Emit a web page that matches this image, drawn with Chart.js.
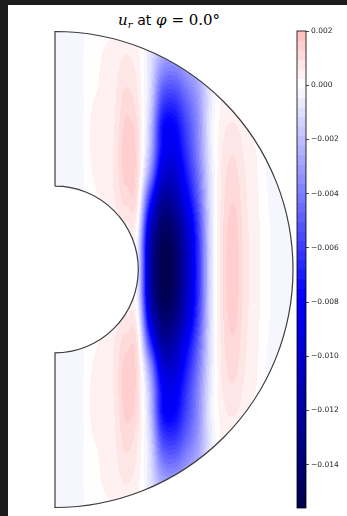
<!DOCTYPE html>
<html>
<head>
<meta charset="utf-8">
<script src="https://cdn.jsdelivr.net/npm/chart.js@4.4.1/dist/chart.umd.min.js"></script>
<style>
  body { margin: 0; background: #1c1c1c; width: 347px; height: 516px; overflow: hidden; }
  #panel { position: absolute; left: 8px; top: 5px; width: 339px; height: 511px; background: #fff; }
  #field { position: absolute; left: 8px; top: 5px; }
  #cbar { position: absolute; left: 296px; top: 20px; }
  #title { position: absolute; left: 118px; top: 11px; font-family: 'DejaVu Serif', serif; font-size: 15px; line-height: 18px; color: #000; white-space: nowrap; }
  #title .m { font-style: italic; }
  #title sub { font-style: italic; font-size: 10px; vertical-align: -3px; line-height: 0; }
  #title .t { font-family: 'DejaVu Sans', sans-serif; font-size: 14px; }
</style>
</head>
<body>
<div id="panel"></div>
<div id="title"><span class="m">u</span><sub>r</sub> <span class="t">at</span> <span class="m">φ</span> = 0.0°</div>
<canvas id="field" width="288" height="511"></canvas>
<canvas id="cbar" width="51" height="496"></canvas>
<script>
// grille du champ u_r (en 1e-3): colonnes en s, lignes en z (hémisphère nord)
const S_GRID = [0, 0.05, 0.1, 0.15, 0.2, 0.25, 0.3, 0.35, 0.4, 0.45, 0.5, 0.55, 0.6, 0.65, 0.7, 0.75, 0.8, 0.85, 0.9, 0.95, 1.0];
const Z_ROWS = [0, 0.1, 0.2, 0.3, 0.4, 0.5, 0.6, 0.7, 0.8, 0.9, 1.0];

const U_Z00 = [-0.3, -0.3, -0.3, -0.2, 0.1, 0.3, 0.3, -1.0, -11.5, -15.5, -14.8, -11.0, -6.6, -1.4, 0.8, 1.6, 0.75, 0.35, -0.1, -0.3, -0.3];
const U_Z01 = [-0.3, -0.3, -0.3, -0.2, 0.1, 0.3, 0.4, -1.0, -11.2, -15.2, -14.5, -10.8, -6.5, -1.4, 0.8, 1.55, 0.75, 0.35, -0.1, -0.3, -0.3];
const U_Z02 = [-0.3, -0.3, -0.3, -0.1, 0.2, 0.4, 0.6, -0.3, -9.5, -14.0, -13.4, -10.0, -6.0, -1.3, 0.75, 1.45, 0.7, 0.32, -0.1, -0.3, -0.3];
const U_Z03 = [-0.3, -0.3, -0.3, 0.1, 0.3, 0.6, 1.1, 0.5, -6.5, -12.0, -11.5, -8.5, -5.1, -1.1, 0.7, 1.25, 0.65, 0.3, -0.15, -0.3, -0.3];
const U_Z04 = [-0.3, -0.3, -0.3, 0.2, 0.35, 0.65, 1.45, 0.85, -3.5, -9.5, -10.0, -7.3, -4.4, -1.0, 0.65, 1.08, 0.6, 0.25, -0.2, -0.3, -0.3];
const U_Z05 = [-0.3, -0.3, -0.3, 0.25, 0.35, 0.65, 1.55, 0.95, -2.2, -7.8, -8.6, -6.4, -3.8, -0.8, 0.55, 0.9, 0.5, 0.2, -0.25, -0.3, -0.3];
const U_Z06 = [-0.3, -0.3, -0.3, 0.25, 0.35, 0.6, 1.4, 0.85, -1.8, -7.4, -7.9, -5.8, -3.6, -0.7, 0.4, 0.65, 0.35, 0.0, -0.2, -0.3, -0.3];
const U_Z07 = [-0.3, -0.3, -0.3, 0.2, 0.3, 0.55, 1.15, 0.6, -1.3, -5.8, -6.4, -4.9, -3.2, -0.8, 0.3, 0.3, 0.0, -0.2, -0.3, -0.3, -0.3];
const U_Z08 = [-0.3, -0.3, -0.2, 0.1, 0.3, 0.5, 0.85, 0.45, -1.0, -4.1, -4.6, -3.6, -2.5, -0.8, 0.2, 0.1, -0.1, -0.3, -0.3, -0.3, -0.3];
const U_Z09 = [-0.3, -0.3, -0.2, 0.05, 0.25, 0.4, 0.6, 0.3, -0.8, -2.5, -2.8, -2.2, -1.4, -0.4, 0.1, 0.0, -0.2, -0.3, -0.3, -0.3, -0.3];
const U_Z10 = [-0.3, -0.3, -0.2, 0.0, 0.15, 0.25, 0.35, 0.15, -0.5, -1.3, -1.4, -1.1, -0.7, -0.2, 0.0, -0.1, -0.2, -0.3, -0.3, -0.3, -0.3];
const FIELD_ROWS = [U_Z00, U_Z01, U_Z02, U_Z03, U_Z04, U_Z05, U_Z06, U_Z07, U_Z08, U_Z09, U_Z10];

// niveaux du contourf et graduations de la barre de couleur
const LEVEL_MIN = -0.0156;
const LEVEL_MAX = 0.002;
const N_BANDS = 50;
const CB_TICKS = [-0.014, -0.012, -0.010, -0.008, -0.006, -0.004, -0.002, 0.000, 0.002];
const R_IN = 0.35;   // rayon du noyau interne (r_o = 1)
const VMAX = 0.0156; // norme symétrique de la palette

const levelStep = (LEVEL_MAX - LEVEL_MIN) / N_BANDS;

// palette "seismic"
function seismic(v) {
    const t = Math.min(1, Math.max(0, (v + VMAX) / (2 * VMAX)));
    const stops = [[0, 0, 0.3], [0, 0, 1], [1, 1, 1], [1, 0, 0], [0.5, 0, 0]];
    const k = Math.min(3, Math.floor(t * 4));
    const f = t * 4 - k;
    return stops[k].map((c, i) => Math.round(255 * (c + (stops[k + 1][i] - c) * f)));
}

const bandColors = [];
for (let k = 0; k < N_BANDS; k++) {
    bandColors.push(seismic(LEVEL_MIN + (k + 0.5) * levelStep));
}

function gridValue(i, j) {
    i = Math.max(0, Math.min(S_GRID.length - 1, i));
    j = Math.max(-(Z_ROWS.length - 1), Math.min(Z_ROWS.length - 1, j));
    return FIELD_ROWS[Math.abs(j)][i]; // symétrie équatoriale
}

function cubic(p0, p1, p2, p3, t) {
    return 0.5 * (2 * p1 + (-p0 + p2) * t + (2 * p0 - 5 * p1 + 4 * p2 - p3) * t * t + (-p0 + 3 * p1 - 3 * p2 + p3) * t * t * t);
}

function fieldAt(s, z) {
    const fi = s / (S_GRID[1] - S_GRID[0]);
    const fj = z / (Z_ROWS[1] - Z_ROWS[0]);
    const i0 = Math.floor(fi), j0 = Math.floor(fj);
    const ts = fi - i0, tz = fj - j0;
    const col = [];
    for (let dj = -1; dj <= 2; dj++) {
        col.push(cubic(gridValue(i0 - 1, j0 + dj), gridValue(i0, j0 + dj), gridValue(i0 + 1, j0 + dj), gridValue(i0 + 2, j0 + dj), ts));
    }
    return cubic(col[0], col[1], col[2], col[3], tz) * 1e-3;
}

// plugin: remplit la coquille sphérique en bandes de niveaux
const contourPlugin = {
    id: 'contourFill',
    beforeDatasetsDraw(chart) {
        const xs = chart.scales.x, ys = chart.scales.y, area = chart.chartArea;
        const x0 = Math.floor(area.left) - 1, y0 = Math.floor(area.top) - 1;
        const w = Math.ceil(area.right) - x0 + 2, h = Math.ceil(area.bottom) - y0 + 2;
        const ctx = chart.ctx;
        const img = ctx.getImageData(x0, y0, w, h);
        for (let py = 0; py < h; py++) {
            const z = ys.getValueForPixel(y0 + py + 0.5);
            for (let px = 0; px < w; px++) {
                const s = xs.getValueForPixel(x0 + px + 0.5);
                const r = Math.hypot(s, z);
                if (s < 0 || r > 1 || r < R_IN) continue;
                const v = fieldAt(s, z);
                const k = Math.max(0, Math.min(N_BANDS - 1, Math.floor((v - LEVEL_MIN) / levelStep)));
                const c = bandColors[k];
                const o = (py * w + px) * 4;
                img.data[o] = c[0]; img.data[o + 1] = c[1]; img.data[o + 2] = c[2]; img.data[o + 3] = 255;
            }
        }
        ctx.putImageData(img, x0, y0);

        // contour de la coquille
        const cx = xs.getPixelForValue(0), cy = ys.getPixelForValue(0);
        const ro = xs.getPixelForValue(1) - cx, ri = xs.getPixelForValue(R_IN) - cx;
        ctx.save();
        ctx.strokeStyle = '#3c3c3c';
        ctx.lineWidth = 1.2;
        ctx.beginPath();
        ctx.moveTo(cx, cy - ri);
        ctx.lineTo(cx, cy - ro);
        ctx.arc(cx, cy, ro, -Math.PI / 2, Math.PI / 2);
        ctx.lineTo(cx, cy + ri);
        ctx.arc(cx, cy, ri, Math.PI / 2, -Math.PI / 2, true);
        ctx.stroke();
        ctx.restore();
    }
};

new Chart(document.getElementById('field'), {
    type: 'scatter',
    data: { datasets: [] },
    options: {
        responsive: false,
        animation: false,
        layout: { padding: { left: 47, right: 3, top: 26.5, bottom: 8.5 } },
        plugins: { legend: { display: false }, tooltip: { enabled: false } },
        scales: {
            x: { type: 'linear', min: 0, max: 1, display: false },
            y: { type: 'linear', min: -1, max: 1, display: false }
        }
    },
    plugins: [contourPlugin]
});

// barre de couleur: une barre flottante par bande, de la bande au sommet (la suivante recouvre)
const cbDatasets = [];
for (let k = N_BANDS - 1; k >= 0; k--) {
    const c = bandColors[k];
    cbDatasets.push({
        data: [[LEVEL_MIN + k * levelStep, LEVEL_MAX]],
        backgroundColor: `rgb(${c[0]}, ${c[1]}, ${c[2]})`,
        borderWidth: 0,
        grouped: false,
        barPercentage: 1,
        categoryPercentage: 1
    });
}

const outlinePlugin = {
    id: 'cbOutline',
    afterDatasetsDraw(chart) {
        const a = chart.chartArea, ctx = chart.ctx;
        ctx.save();
        ctx.strokeStyle = '#000';
        ctx.lineWidth = 0.8;
        ctx.strokeRect(a.left, a.top, a.right - a.left, a.bottom - a.top);
        ctx.restore();
    }
};

new Chart(document.getElementById('cbar'), {
    type: 'bar',
    data: { labels: [''], datasets: cbDatasets },
    options: {
        responsive: false,
        animation: false,
        layout: { padding: { left: 1, right: 0, top: 11, bottom: 8 } },
        plugins: { legend: { display: false }, tooltip: { enabled: false } },
        scales: {
            x: { display: false },
            y: {
                position: 'right',
                min: LEVEL_MIN,
                max: LEVEL_MAX,
                afterFit: s => { s.width = 41; },
                afterBuildTicks: s => { s.ticks = CB_TICKS.map(v => ({ value: v })); },
                border: { display: false },
                grid: { drawOnChartArea: false, drawTicks: true, tickLength: 3, tickColor: '#222', tickWidth: 0.8 },
                ticks: {
                    padding: 2,
                    color: '#262626',
                    font: { family: 'DejaVu Sans', size: 7.5 },
                    callback: v => (v < 0 ? '\u2212' : '') + Math.abs(v).toFixed(3)
                }
            }
        }
    },
    plugins: [outlinePlugin]
});
</script>
</body>
</html>
